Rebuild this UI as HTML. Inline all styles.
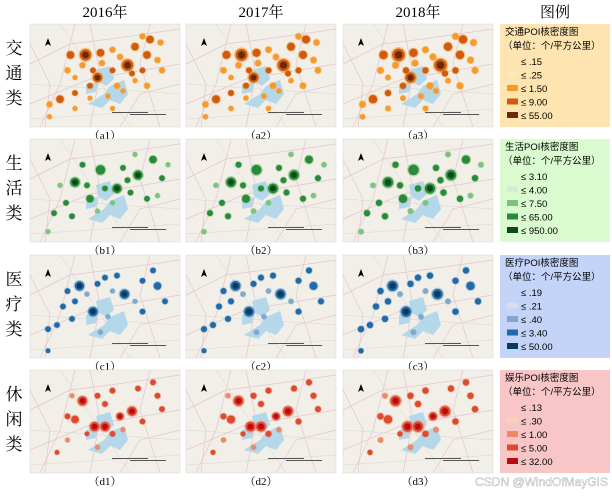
<!DOCTYPE html>
<html><head><meta charset="utf-8"><style>
body{margin:0;background:#fff;width:612px;height:496px;overflow:hidden}
svg text{font-family:"Liberation Serif","Noto Serif CJK SC",serif}
svg .lg text{font-family:"Liberation Sans","Noto Sans CJK SC",sans-serif}
</style></head><body>
<svg id="s" width="612" height="496" xmlns="http://www.w3.org/2000/svg"></svg>
<script>
const years=["2016年","2017年","2018年"];
const rowLabels=[["交","通","类"],["生","活","类"],["医","疗","类"],["休","闲","类"]];
const panelLabels=[["（a1）","（a2）","（a3）"],["（b1）","（b2）","（b3）"],["（c1）","（c2）","（c3）"],["（d1）","（d2）","（d3）"]];
const legendTitles=["交通POI核密度图","生活POI核密度图","医疗POI核密度图","娱乐POI核密度图"];
const legendBreaks=[["≤ .15","≤ .25","≤ 1.50","≤ 9.00","≤ 55.00"],["≤ 3.10","≤ 4.00","≤ 7.50","≤ 65.00","≤ 950.00"],["≤ .19","≤ .21","≤ .40","≤ 3.40","≤ 50.00"],["≤ .13","≤ .30","≤ 1.00","≤ 5.00","≤ 32.00"]];
const legendColors=[["none","#fde8b8","#f89a2a","#d05a10","#6a2a08"],["none","#d6e8d6","#7cc47c","#2a8a3a","#0a4a1a"],["none","#d8dde8","#7fa8cc","#1f6aa8","#0a3a5a"],["none","#f6d2b8","#ec8a68","#dc4a30","#b80c10"]];
const legendBg=["#fde4b0","#dafbd0","#c4d4f8","#f8c6c6"];
// blobs: [x(0-1), y(0-1), radius px, level 2..4]
const transportBlobs=[[0.37,0.30,6,4],[0.65,0.40,6,4],[0.45,0.52,5,4],[0.27,0.30,4,3],[0.47,0.28,4,3],[0.55,0.25,3,2],[0.70,0.22,4,3],[0.80,0.15,4,3],[0.87,0.18,3,2],[0.78,0.30,4,3],[0.85,0.35,3,2],[0.88,0.45,3,2],[0.75,0.45,3,3],[0.55,0.45,3,3],[0.58,0.60,3,2],[0.40,0.60,3,3],[0.30,0.67,3,3],[0.20,0.73,4,3],[0.13,0.78,3,2],[0.25,0.45,3,2],[0.30,0.52,2.5,2],[0.35,0.40,3,2],[0.48,0.38,3,2],[0.60,0.32,3,2],[0.70,0.55,2.5,2],[0.78,0.60,3,2],[0.52,0.70,2.5,2],[0.55,0.82,2.5,2],[0.40,0.72,2.5,2],[0.30,0.82,2.5,2],[0.13,0.90,2.5,2],[0.75,0.12,3,2],[0.62,0.65,2.5,2],[0.68,0.48,3,3],[0.42,0.45,3,3]];
const livingBlobs=[[0.30,0.42,5,4],[0.47,0.30,5,3],[0.58,0.48,5,4],[0.72,0.35,5,4],[0.82,0.20,4,3],[0.88,0.38,3,3],[0.40,0.58,4,3],[0.24,0.62,3,3],[0.16,0.72,3,3],[0.35,0.25,3,3],[0.62,0.28,3,3],[0.67,0.52,3,3],[0.78,0.58,3,3],[0.50,0.48,3,3],[0.20,0.45,2.5,2],[0.28,0.75,3,3],[0.45,0.70,2.5,2],[0.55,0.62,2.5,2],[0.85,0.55,2.5,2],[0.92,0.25,2.5,2],[0.70,0.15,2.5,2],[0.12,0.90,2.5,2],[0.38,0.45,3,3],[0.65,0.40,3,3]];
const medicalBlobs=[[0.33,0.30,5,4],[0.63,0.38,5,4],[0.42,0.55,5,4],[0.25,0.35,3,3],[0.45,0.28,3,3],[0.50,0.22,3,3],[0.58,0.20,3,3],[0.75,0.25,3,3],[0.82,0.15,3,3],[0.85,0.30,4,3],[0.90,0.45,3,3],[0.75,0.55,3,3],[0.30,0.45,3,3],[0.22,0.50,3,3],[0.28,0.62,3,3],[0.18,0.68,3,3],[0.12,0.72,3,3],[0.52,0.60,2.5,2],[0.47,0.75,2.5,2],[0.12,0.93,2.5,3],[0.70,0.45,2.5,2],[0.38,0.38,2.5,2],[0.55,0.35,2.5,2]];
const leisureBlobs=[[0.35,0.30,5,4],[0.43,0.55,5,4],[0.50,0.55,5,4],[0.60,0.45,4,4],[0.68,0.40,5,4],[0.30,0.48,4,3],[0.25,0.45,3,3],[0.45,0.25,3,3],[0.50,0.33,3,3],[0.55,0.20,3,3],[0.72,0.18,3,3],[0.82,0.12,3,3],[0.85,0.25,3,3],[0.88,0.38,3,3],[0.75,0.50,3,3],[0.55,0.62,3,3],[0.38,0.62,2.5,3],[0.25,0.68,2.5,2],[0.18,0.80,2.5,3],[0.45,0.75,2.5,2],[0.28,0.25,2.5,2],[0.62,0.58,2.5,2]];
const allBlobs=[transportBlobs,livingBlobs,medicalBlobs,leisureBlobs];
const yearScale=[0.95,1.0,1.05];

const NS="http://www.w3.org/2000/svg";
const svg=document.getElementById('s');
function el(t,a,p){const e=document.createElementNS(NS,t);for(const k in a)e.setAttribute(k,a[k]);(p||svg).appendChild(e);return e;}
const colX=[30,186,343], colW=150, rowY=[24,139,255,370], rowH=103;

years.forEach((y,i)=>{const t=el('text',{x:colX[i]+colW/2,y:17,'text-anchor':'middle','font-size':15});t.textContent=y;

});
const lt=el('text',{x:555,y:17,'text-anchor':'middle','font-size':15});lt.textContent="图例";



rowLabels.forEach((chars,r)=>{chars.forEach((c,k)=>{const t=el('text',{x:14,y:rowY[r]+30+k*25,'text-anchor':'middle','font-size':17});t.textContent=c;

});});

for(let r=0;r<4;r++){for(let c=0;c<3;c++){
  const g=el('g',{transform:`translate(${colX[c]},${rowY[r]})`});
  
  
  el('rect',{x:0,y:0,width:colW,height:rowH,fill:'#f1efe8',stroke:'#d8d8d8','stroke-width':0.5},g);
  const roads=["M0,40 L40,20 L80,15 L150,5","M10,103 L30,60 L45,0","M0,80 L60,55 L150,40","M90,103 L110,70 L150,60","M120,0 L110,40 L130,103","M0,20 L20,60 L15,103","M60,0 L70,50 L60,103"];
  roads.forEach(d=>el('path',{d,fill:'none',stroke:'#e6c4ce','stroke-width':0.7},g));
  ["M0,60 L150,70","M30,0 L100,103","M0,95 L150,85"].forEach(d=>el('path',{d,fill:'none',stroke:'#d6d6d6','stroke-width':0.5},g));
  el('path',{d:"M66,46 L80,42 L84,55 L76,62 L68,57 Z M80,62 L94,56 L98,70 L90,80 L80,76 L72,84 L58,80 L74,70 Z M56,60 L68,58 L66,68 L56,70 Z",fill:'#b4d8ea'},g);
  el('path',{d:"M18,14 L21,22 L18,20 L15,22 Z",fill:'#000'},g);
  el('rect',{x:82,y:88,width:36,height:1,fill:'#555'},g);
  el('rect',{x:100,y:90,width:36,height:1,fill:'#555'},g);
  const s=yearScale[c];
  allBlobs[r].forEach(b=>{
    const cx=b[0]*colW, cy=b[1]*rowH, rr=b[2]*s;
    const o=el('circle',{cx,cy,r:rr*1.25,fill:legendColors[r][2],opacity:0.55},g);
    
    
    const m=el('circle',{cx,cy,r:rr,fill:legendColors[r][Math.min(b[3],3)]},g);
    
    
    if(b[3]>=4){const k=el('circle',{cx,cy,r:rr*0.6,fill:legendColors[r][4]},g);
      
      }
  });
  const pl=el('text',{x:colX[c]+colW/2,y:rowY[r]+rowH+12,'text-anchor':'middle','font-size':11});pl.textContent=panelLabels[r][c];
  
  
}}

for(let r=0;r<4;r++){
  const g=el('g',{transform:`translate(500,${rowY[r]})`,class:'lg'});
  
  
  el('rect',{x:0,y:0,width:110,height:rowH,fill:legendBg[r]},g);
  const t=el('text',{x:5,y:11,'font-size':9.5},g);t.textContent=legendTitles[r];
  const u=el('text',{x:3,y:25,'font-size':9.5},g);u.textContent="（单位：个/平方公里）";
  legendBreaks[r].forEach((lab,i)=>{
    const yy=41+i*13.5;
    if(legendColors[r][i]!=='none'){const sw=el('rect',{x:7,y:yy-7,width:11,height:6,fill:legendColors[r][i]},g);
      
      }
    const tx=el('text',{x:21,y:yy,'font-size':9.5},g);tx.textContent=lab;
    
    
  });
}
const wm=el('text',{x:608,y:486,'text-anchor':'end','font-size':12,fill:'#fff',stroke:'#888','stroke-width':0.3,style:'font-family:"Liberation Sans",sans-serif'});wm.textContent="CSDN @WindOfMayGIS";


</script>
</body></html>
